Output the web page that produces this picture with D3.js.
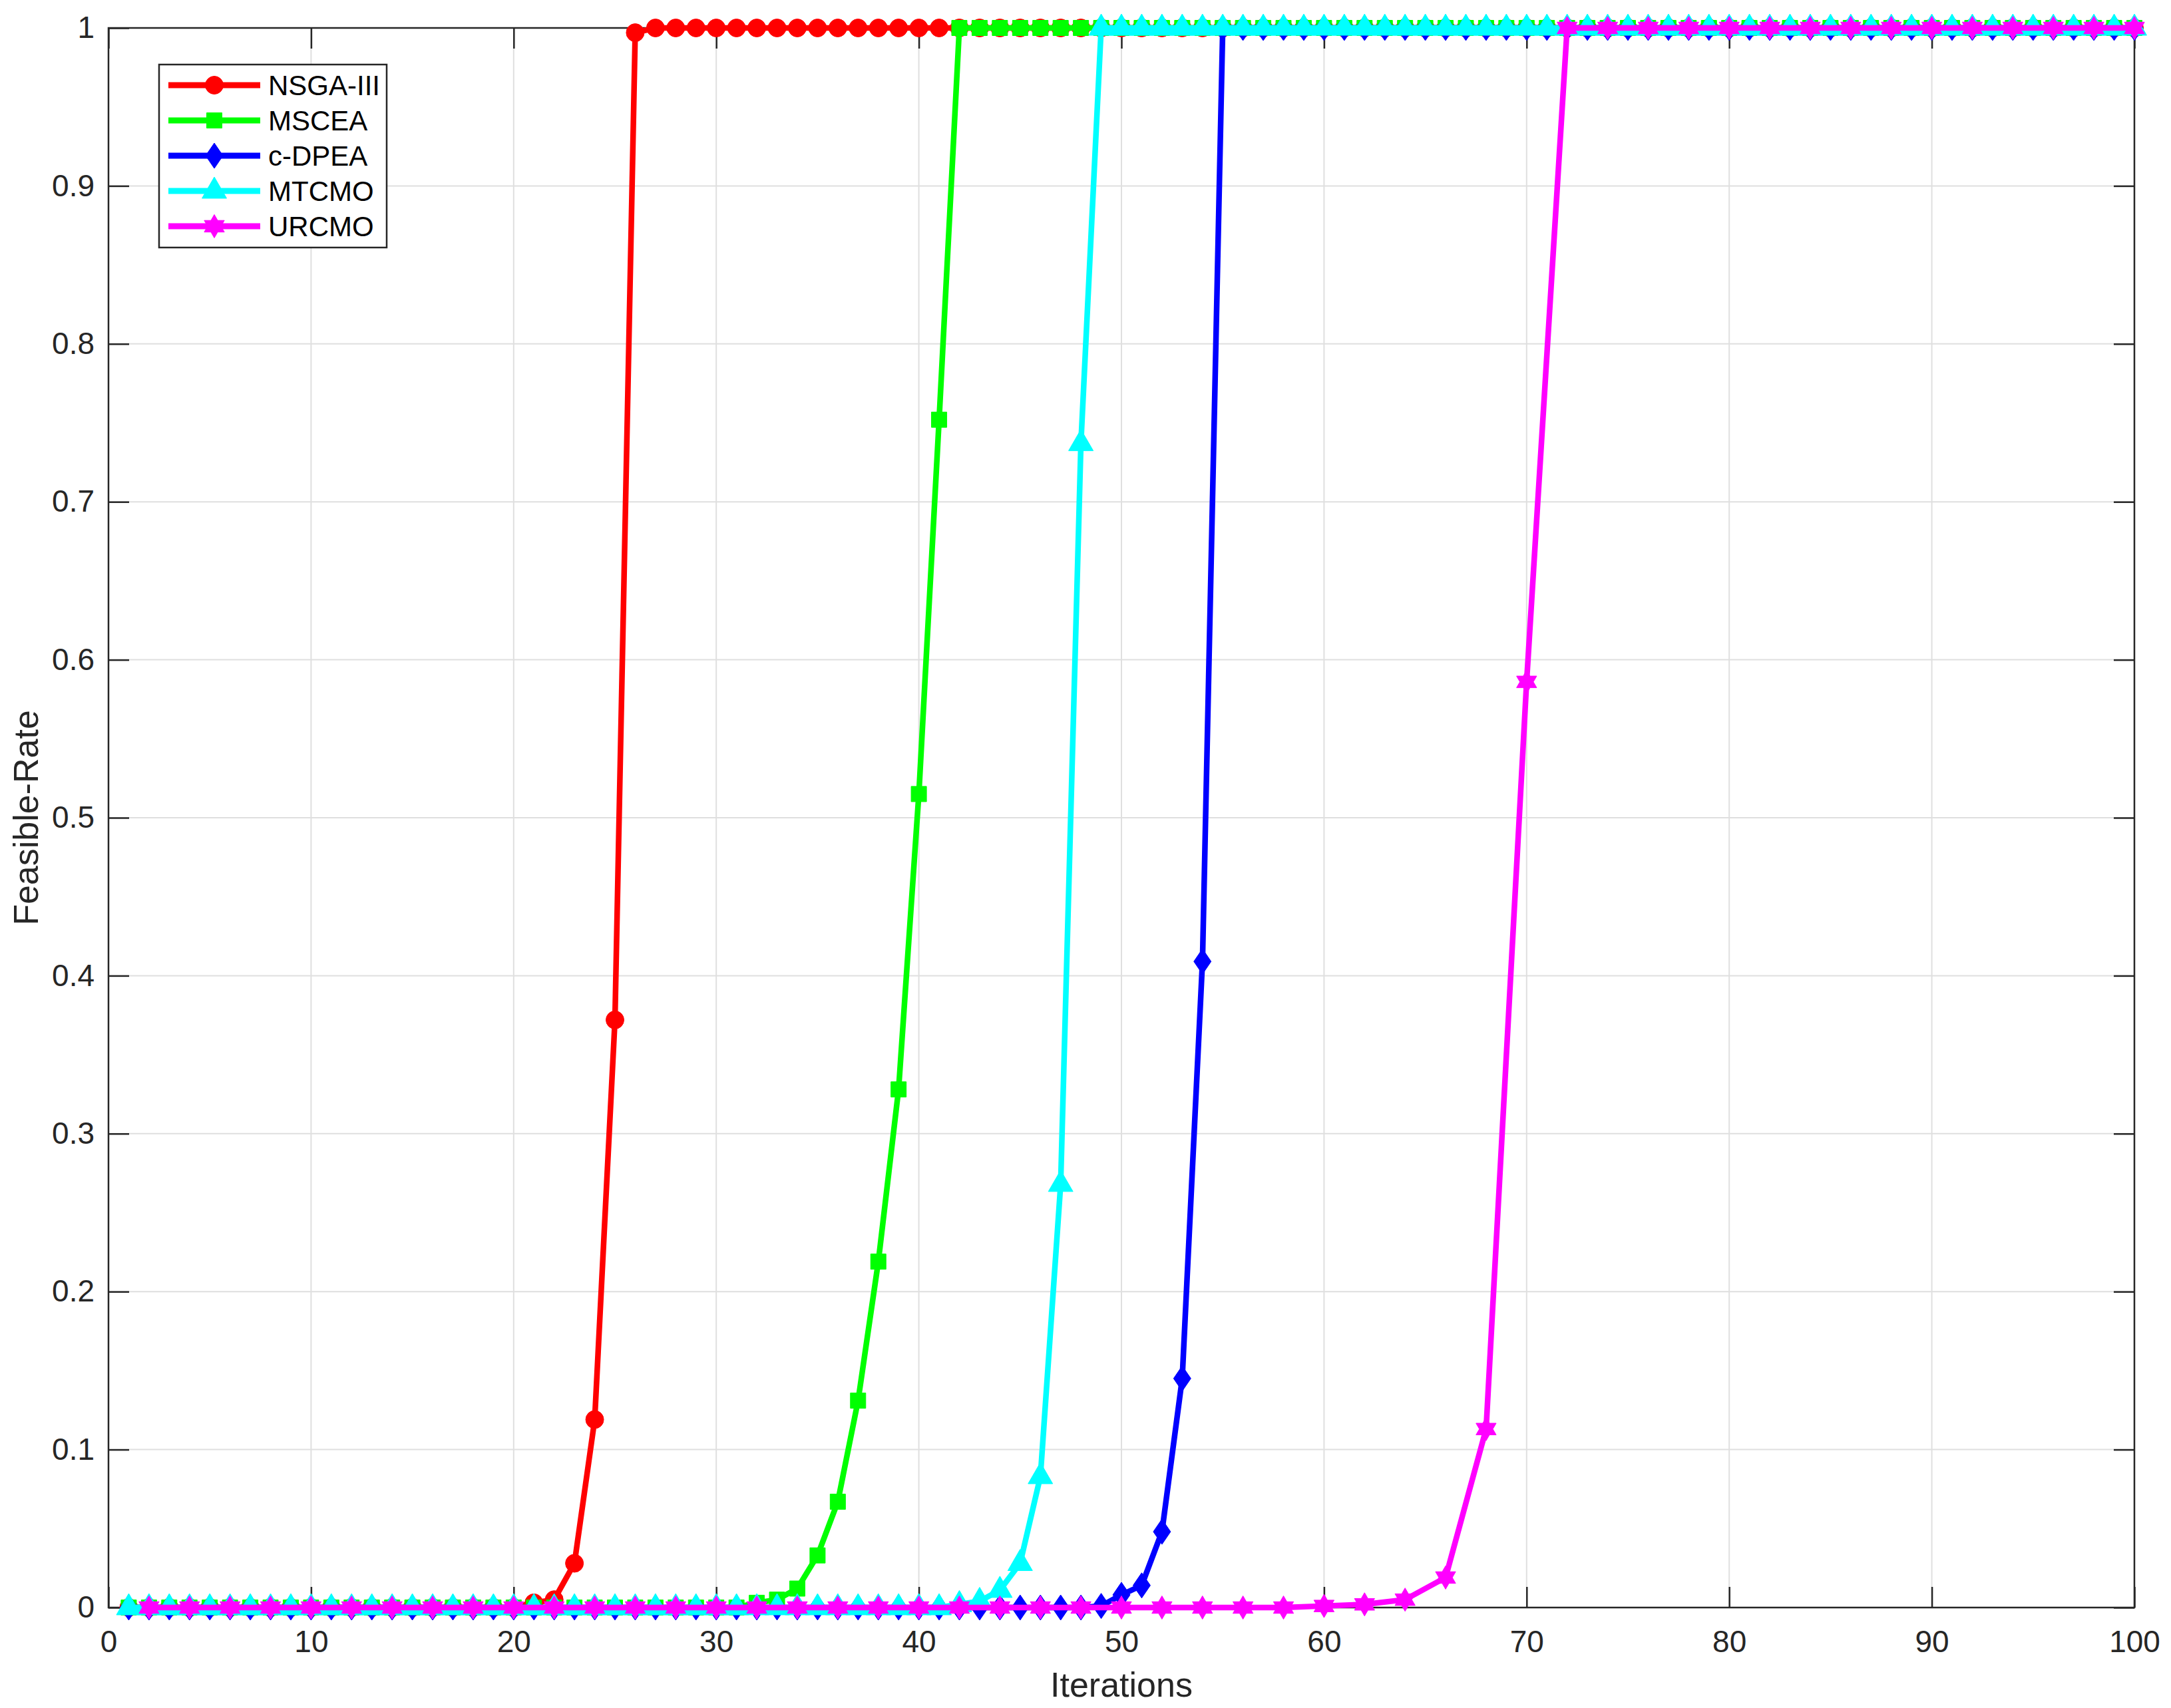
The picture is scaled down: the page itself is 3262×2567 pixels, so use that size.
<!DOCTYPE html>
<html>
<head>
<meta charset="utf-8">
<title>Feasible-Rate</title>
<script src="https://cdn.jsdelivr.net/npm/d3@7"></script>
<style>
  body { margin: 0; background: #fff; }
  svg { display: block; }
  text { font-family: "Liberation Sans", Arial, sans-serif; }
</style>
</head>
<body>
<svg id="chart" width="3262" height="2567"></svg>
<script>
// iterations 1..100
var iterations = [
  1,2,3,4,5,6,7,8,9,10,11,12,13,14,15,16,17,18,19,20,
  21,22,23,24,25,26,27,28,29,30,31,32,33,34,35,36,37,38,39,40,
  41,42,43,44,45,46,47,48,49,50,51,52,53,54,55,56,57,58,59,60,
  61,62,63,64,65,66,67,68,69,70,71,72,73,74,75,76,77,78,79,80,
  81,82,83,84,85,86,87,88,89,90,91,92,93,94,95,96,97,98,99,100];

// URCMO was only recorded every 2 iterations
var iterationsEven = [
  2,4,6,8,10,12,14,16,18,20,22,24,26,28,30,32,34,36,38,40,
  42,44,46,48,50,52,54,56,58,60,62,64,66,68,70,72,74,76,78,80,
  82,84,86,88,90,92,94,96,98,100];

var nsga3 = [
  0,0,0,0,0,0,0,0,0,0,0,0,0,0,0,0,0,0,0,0,
  0.003,0.005,0.028,0.119,0.372,0.997,1,1,1,1,1,1,1,1,1,1,1,1,1,1,
  1,1,1,1,1,1,1,1,1,1,1,1,1,1,1,1,1,1,1,1,
  1,1,1,1,1,1,1,1,1,1,1,1,1,1,1,1,1,1,1,1,
  1,1,1,1,1,1,1,1,1,1,1,1,1,1,1,1,1,1,1,1];

var mscea = [
  0,0,0,0,0,0,0,0,0,0,0,0,0,0,0,0,0,0,0,0,
  0,0,0,0,0,0,0,0,0,0,0,0.003,0.005,0.012,0.033,0.067,0.131,0.219,0.328,0.515,
  0.752,1,1,1,1,1,1,1,1,1,1,1,1,1,1,1,1,1,1,1,
  1,1,1,1,1,1,1,1,1,1,1,1,1,1,1,1,1,1,1,1,
  1,1,1,1,1,1,1,1,1,1,1,1,1,1,1,1,1,1,1,1];

var cdpea = [
  0,0,0,0,0,0,0,0,0,0,0,0,0,0,0,0,0,0,0,0,
  0,0,0,0,0,0,0,0,0,0,0,0,0,0,0,0,0,0,0,0,
  0,0,0,0,0,0,0,0,0.001,0.008,0.014,0.048,0.145,0.409,1,1,1,1,1,1,
  1,1,1,1,1,1,1,1,1,1,1,1,1,1,1,1,1,1,1,1,
  1,1,1,1,1,1,1,1,1,1,1,1,1,1,1,1,1,1,1,1];

var mtcmo = [
  0,0,0,0,0,0,0,0,0,0,0,0,0,0,0,0,0,0,0,0,
  0,0,0,0,0,0,0,0,0,0,0,0,0,0,0,0,0,0,0,0,
  0,0.002,0.004,0.011,0.028,0.083,0.268,0.737,1,1,1,1,1,1,1,1,1,1,1,1,
  1,1,1,1,1,1,1,1,1,1,1,1,1,1,1,1,1,1,1,1,
  1,1,1,1,1,1,1,1,1,1,1,1,1,1,1,1,1,1,1,1];

var urcmo = [
  0,0,0,0,0,0,0,0,0,0,0,0,0,0,0,0,0,0,0,0,
  0,0,0,0,0,0,0,0,0,0.001,0.002,0.005,0.019,0.113,0.586,1,1,1,1,1,
  1,1,1,1,1,1,1,1,1,1];

var seriesNames = ["NSGA-III", "MSCEA", "c-DPEA", "MTCMO", "URCMO"];
var seriesColors = ["#ff0000", "#00ff00", "#0000ff", "#00ffff", "#ff00ff"];
var seriesMarkers = ["circle", "square", "diamond", "triangle", "hexagram"];

var xTicks = [0, 10, 20, 30, 40, 50, 60, 70, 80, 90, 100];
var yTicks = [0, 0.1, 0.2, 0.3, 0.4, 0.5, 0.6, 0.7, 0.8, 0.9, 1];

var series = [
  { xs: iterations, ys: nsga3 },
  { xs: iterations, ys: mscea },
  { xs: iterations, ys: cdpea },
  { xs: iterations, ys: mtcmo },
  { xs: iterationsEven, ys: urcmo }
];

var pLeft = 163, pRight = 3207, pTop = 42, pBottom = 2416;
var svg = d3.select("#chart");

var x = d3.scaleLinear().domain([0, 100]).range([pLeft, pRight]);
var y = d3.scaleLinear().domain([0, 1]).range([pBottom, pTop]);

// grid
var grid = svg.append("g").attr("stroke", "#dfdfdf").attr("stroke-width", 2);
grid.selectAll(".gx").data(xTicks.slice(1, -1)).enter().append("line")
  .attr("x1", d => x(d)).attr("x2", d => x(d)).attr("y1", pTop).attr("y2", pBottom);
grid.selectAll(".gy").data(yTicks.slice(1, -1)).enter().append("line")
  .attr("y1", d => y(d)).attr("y2", d => y(d)).attr("x1", pLeft).attr("x2", pRight);

// axes (ticks inward, box on)
var tickLen = 31;
function styleAxis(g) {
  g.select(".domain").remove();
  g.selectAll(".tick line").attr("stroke", "#262626").attr("stroke-width", 2.5);
  g.selectAll(".tick text").style("font-size", "46px").attr("fill", "#262626");
}
svg.append("g").attr("transform", "translate(0," + pBottom + ")")
  .call(d3.axisBottom(x).tickValues(xTicks).tickSizeInner(-tickLen).tickSizeOuter(0).tickPadding(34))
  .call(styleAxis);
svg.append("g").attr("transform", "translate(0," + pTop + ")")
  .call(d3.axisTop(x).tickValues(xTicks).tickSizeInner(-tickLen).tickSizeOuter(0).tickFormat(""))
  .call(styleAxis);
svg.append("g").attr("transform", "translate(" + pLeft + ",0)")
  .call(d3.axisLeft(y).tickValues(yTicks).tickSizeInner(-tickLen).tickSizeOuter(0).tickPadding(21).tickFormat(d3.format("~g")))
  .call(styleAxis);
svg.append("g").attr("transform", "translate(" + pRight + ",0)")
  .call(d3.axisRight(y).tickValues(yTicks).tickSizeInner(-tickLen).tickSizeOuter(0).tickFormat(""))
  .call(styleAxis);

svg.append("rect").attr("x", pLeft).attr("y", pTop)
  .attr("width", pRight - pLeft).attr("height", pBottom - pTop)
  .attr("fill", "none").attr("stroke", "#262626").attr("stroke-width", 2.5);

// axis labels
svg.append("text").attr("x", (pLeft + pRight) / 2).attr("y", 2550)
  .attr("text-anchor", "middle").attr("fill", "#262626").style("font-size", "52px").text("Iterations");
svg.append("text").attr("transform", "translate(57," + (pTop + pBottom) / 2 + ") rotate(-90)")
  .attr("text-anchor", "middle").attr("fill", "#262626").style("font-size", "52px").text("Feasible-Rate");

// marker shapes
function markerPath(type) {
  if (type === "circle") return d3.symbol(d3.symbolCircle, Math.PI * 13.5 * 13.5)();
  if (type === "square") return "M-11.5,-11.5H11.5V11.5H-11.5Z";
  if (type === "diamond") return "M0,-19L13,0L0,19L-13,0Z";
  if (type === "triangle") return "M0,-21L18.5,11L-18.5,11Z";
  var R = 17.5, r = R / Math.sqrt(3), p = [];
  for (var i = 0; i < 12; i++) {
    var a = -Math.PI / 2 + i * Math.PI / 6, rad = i % 2 === 0 ? R : r;
    p.push([rad * Math.cos(a), rad * Math.sin(a)]);
  }
  return "M" + p.join("L") + "Z";
}

var line = d3.line().x(d => x(d[0])).y(d => y(d[1]));
var plot = svg.append("g");

series.forEach(function(s, k) {
  var pts = s.xs.map((v, i) => [v, s.ys[i]]);
  var g = plot.append("g");
  g.append("path").datum(pts).attr("d", line)
    .attr("fill", "none").attr("stroke", seriesColors[k]).attr("stroke-width", 8.5)
    .attr("stroke-linejoin", "round");
  g.selectAll("path.m").data(pts).enter().append("path").attr("class", "m")
    .attr("d", markerPath(seriesMarkers[k]))
    .attr("transform", d => "translate(" + x(d[0]) + "," + y(d[1]) + ")")
    .attr("fill", seriesColors[k]).attr("stroke", seriesColors[k]).attr("stroke-width", 1);
});

// legend
var lg = svg.append("g");
lg.append("rect").attr("x", 239).attr("y", 97).attr("width", 342).attr("height", 275)
  .attr("fill", "#fff").attr("stroke", "#262626").attr("stroke-width", 2.5);
seriesNames.forEach(function(name, k) {
  var cy = 128 + k * 53;
  lg.append("line").attr("x1", 253).attr("x2", 391).attr("y1", cy).attr("y2", cy)
    .attr("stroke", seriesColors[k]).attr("stroke-width", 9);
  lg.append("path").attr("d", markerPath(seriesMarkers[k]))
    .attr("transform", "translate(322," + cy + ")")
    .attr("fill", seriesColors[k]).attr("stroke", seriesColors[k]).attr("stroke-width", 1);
  lg.append("text").attr("x", 403).attr("y", cy + 15).style("font-size", "42px")
    .attr("fill", "#000").text(name);
});
</script>
</body>
</html>
